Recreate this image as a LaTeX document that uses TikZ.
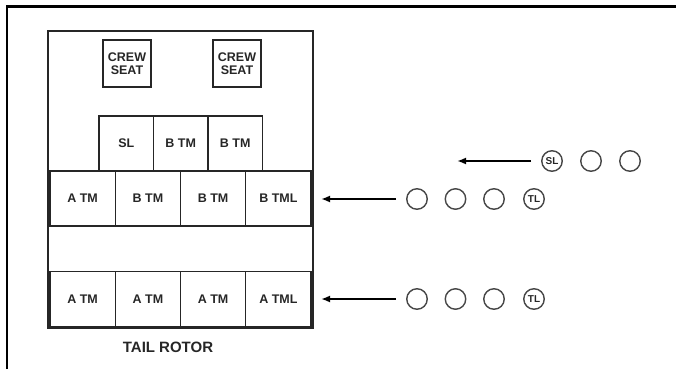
\documentclass[tikz,border=0pt]{standalone}
\usepackage{fontspec}
\setmainfont{Liberation Sans}
\usetikzlibrary{arrows.meta}
\definecolor{ink}{HTML}{262626}
\tikzset{
  cell/.style={draw=ink, line width=1.3pt, inner sep=0pt, font=\bfseries\fontsize{12.5}{13}\selectfont, text=ink},
  seat/.style={cell, minimum width=48pt, minimum height=47pt, align=center, font=\bfseries\fontsize{12.5}{14}\selectfont},
  slcell/.style={cell, minimum width=54.5pt, minimum height=55pt},
  rowcell/.style={cell, minimum width=65.25pt, minimum height=55pt},
  ring/.style={circle, draw=ink!85, line width=1.4pt, minimum size=20.5pt, inner sep=0pt, font=\bfseries\fontsize{10}{10}\selectfont, text=ink},
  arr/.style={line width=2.3pt, black, -{Latex[length=9pt,width=7pt]}, shorten <=10pt},
  frame/.style={line width=2.5pt, black}
}
\begin{document}
\begin{tikzpicture}[x=1pt,y=-1pt]
\useasboundingbox (0,0) rectangle (676,369);
% page frame
\draw[frame] (7,369) -- (7,6.5) -- (676,6.5);
% cabin outline
\node[draw=ink, line width=1.8pt, minimum width=265pt, minimum height=297pt, inner sep=0pt] (cabin) at (180.5,179.5) {};
% crew seats
\node[seat] (seat1) at (127,63.5) {CREW\\[-1.5pt]SEAT};
\node[seat] (seat2) at (237,63.5) {CREW\\[-1.5pt]SEAT};
% SL row
\node[slcell] (s1) at (126.25,143.5) {SL};
\node[slcell] (s2) at (180.75,143.5) {B TM};
\node[slcell] (s3) at (235.25,143.5) {B TM};
% row 2
\node[rowcell] (b1) at (82.6,198.5) {A TM};
\node[rowcell] (b2) at (147.9,198.5) {B TM};
\node[rowcell] (b3) at (213.1,198.5) {B TM};
\node[rowcell] (b4) at (278.4,198.5) {B TML};
% row 3
\node[rowcell] (a1) at (82.6,299) {A TM};
\node[rowcell] (a2) at (147.9,299) {A TM};
\node[rowcell] (a3) at (213.1,299) {A TM};
\node[rowcell] (a4) at (278.4,299) {A TML};
% label
\node[font=\bfseries\fontsize{15}{16}\selectfont, text=ink] (tail) at (168,347) {TAIL ROTOR};
% circles top
\node[ring] (c11) at (552,161) {SL};
\node[ring] (c12) at (591,161) {};
\node[ring] (c13) at (630,161) {};
\coordinate (t1) at (457,161);
\draw[arr] (c11) -- (t1);
% circles row 2
\node[ring] (c21) at (417,199) {};
\node[ring] (c22) at (455.5,199) {};
\node[ring] (c23) at (494,199) {};
\node[ring] (c24) at (534,199) {TL};
\coordinate (t2) at (321,199);
\draw[arr] (c21) -- (t2);
% circles row 3
\node[ring] (c31) at (417,299) {};
\node[ring] (c32) at (455.5,299) {};
\node[ring] (c33) at (494,299) {};
\node[ring] (c34) at (534,299) {TL};
\coordinate (t3) at (321,299);
\draw[arr] (c31) -- (t3);
\end{tikzpicture}
\end{document}
